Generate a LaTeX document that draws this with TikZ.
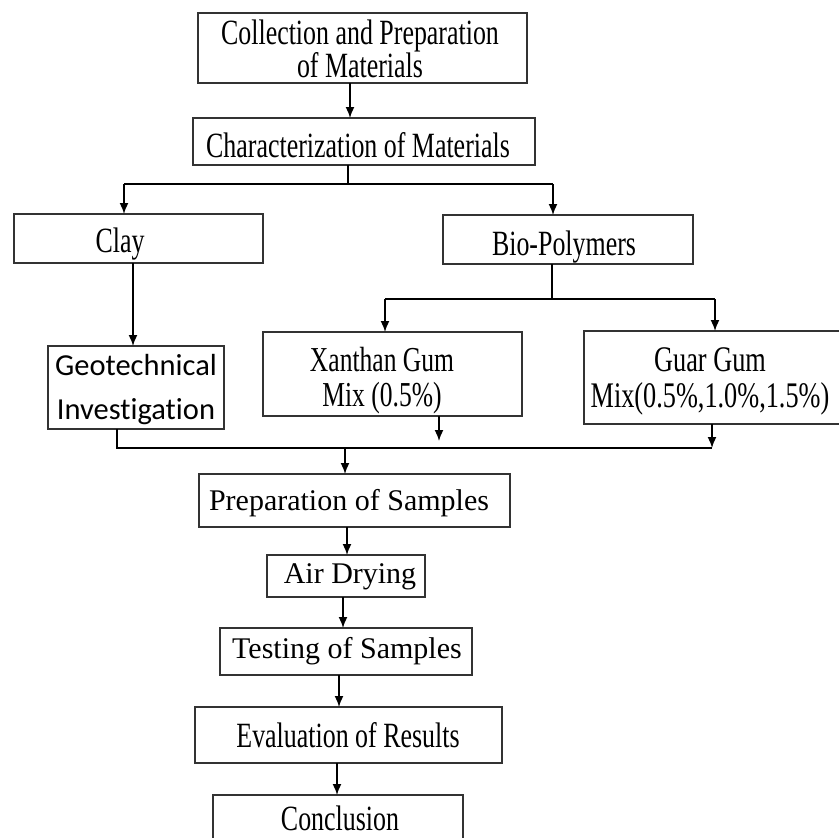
\documentclass[tikz,border=0pt]{standalone}
\usepackage{fontspec}
\usetikzlibrary{arrows.meta,calc}
\newfontfamily\condfont[FakeStretch=0.73]{Liberation Serif}
\newfontfamily\plainfont{Liberation Serif}
\newfontfamily\geofont[Ligatures={NoCommon}]{Carlito}
\begin{document}
\begin{tikzpicture}[x=1pt,y=-1pt,
  box/.style={draw=black!80, line width=2.2pt, inner sep=0pt, outer sep=0pt},
  cond/.style={font=\condfont\fontsize{35.5}{30}\selectfont, inner sep=0pt, align=center},
  condx/.style={font=\condfont\fontsize{35}{35}\selectfont, inner sep=0pt, align=center},
  condg/.style={font=\condfont\fontsize{36}{36}\selectfont, inner sep=0pt, align=center},
  plain/.style={font=\plainfont\fontsize{30}{32}\selectfont, inner sep=0pt},
  geot/.style={font=\geofont\fontsize{30.5}{44}\selectfont, inner sep=0pt, align=center},
  ln/.style={line width=1.6pt, black},
  arr/.style={line width=1.6pt, black, -{Latex[length=11pt,width=9pt]}}
]
\useasboundingbox (0,0) rectangle (838,838);
\fill[white] (0,0) rectangle (838,838);

% boxes
\node[box, minimum width=329pt, minimum height=70pt] (coll) at (362.5,48) {};
\node[box, minimum width=342pt, minimum height=47pt] (char) at (364,141.5) {};
\node[box, minimum width=249pt, minimum height=49pt] (clay) at (138.5,238.5) {};
\node[box, minimum width=250pt, minimum height=49pt] (bio) at (568,239.5) {};
\node[box, minimum width=176pt, minimum height=83pt] (geo) at (136,387.5) {};
\node[box, minimum width=259pt, minimum height=84pt] (xan) at (392.5,374) {};
\node[box, minimum width=266pt, minimum height=93pt] (guar) at (717,377.5) {};
\node[box, minimum width=311pt, minimum height=53pt] (prep) at (354.5,500.5) {};
\node[box, minimum width=158pt, minimum height=42pt] (air) at (346,576) {};
\node[box, minimum width=252pt, minimum height=47pt] (test) at (346,651.5) {};
\node[box, minimum width=307pt, minimum height=56pt] (eval) at (348.5,735) {};
\node[box, minimum width=250pt, minimum height=65pt] (concl) at (338,827.5) {};

% texts
\node[cond] (tcoll) at (360,49) {Collection and Preparation\\of Materials};
\node[cond, anchor=base] (tchar) at (358,157) {Characterization of Materials};
\node[cond, anchor=base] (tclay) at (120,252) {Clay};
\node[cond, anchor=base] (tbio) at (564,255) {Bio-Polymers};
\node[geot] (tgeo) at (136,390) {Geotechnical\\Investigation};
\node[condx] (txan) at (382,381) {Xanthan Gum\\Mix (0.5\%)};
\node[condg] (tguar) at (710,381) {Guar Gum\\Mix(0.5\%,1.0\%,1.5\%)};
\node[plain, anchor=base] (tprep) at (349,510) {Preparation of Samples};
\node[plain, anchor=base] (tair) at (350,583) {Air Drying};
\node[plain, anchor=base] (ttest) at (347,658) {Testing of Samples};
\node[cond, anchor=base] (teval) at (348,747) {Evaluation of Results};
\node[cond, anchor=base] (tconcl) at (340,830) {Conclusion};

% connectors
\coordinate (a1) at (350,83);
\draw[arr] (a1) -- (a1 |- char.north);

\coordinate (j1) at (348,184);
\coordinate (sl) at (124,184);
\coordinate (sr) at (553,184);
\draw[ln] (char.south -| j1) -- (j1);
\draw[ln] (sl) -- (sr);
\draw[arr] (sl) -- (sl |- clay.north);
\draw[arr] (sr) -- (sr |- bio.north);

\coordinate (c1) at (133,263);
\draw[arr] (clay.south -| c1) -- (c1 |- geo.north);

\coordinate (j2) at (552,299);
\coordinate (xl) at (385,299);
\coordinate (xr) at (715,299);
\draw[ln] (bio.south -| j2) -- (j2);
\draw[ln] (xl) -- (xr);
\draw[arr] (xl) -- (xl |- xan.north);
\draw[arr] (xr) -- (xr |- guar.north);

\coordinate (ml) at (117,448);
\coordinate (mr) at (712,448);
\coordinate (xm) at (439,441);
\draw[ln] (geo.south -| ml) -- (ml) -- (mr);
\draw[arr] (guar.south -| mr) -- (mr);
\draw[arr] (xan.south -| xm) -- (xm);
\coordinate (m0) at (345,448);
\draw[arr] (m0) -- (m0 |- prep.north);

\coordinate (p1) at (347,527);
\draw[arr] (prep.south -| p1) -- (p1 |- air.north);
\coordinate (p2) at (343,597);
\draw[arr] (air.south -| p2) -- (p2 |- test.north);
\coordinate (p3) at (339,675);
\draw[arr] (test.south -| p3) -- (p3 |- eval.north);
\coordinate (p4) at (337,763);
\draw[arr] (eval.south -| p4) -- (p4 |- concl.north);
\end{tikzpicture}
\end{document}
